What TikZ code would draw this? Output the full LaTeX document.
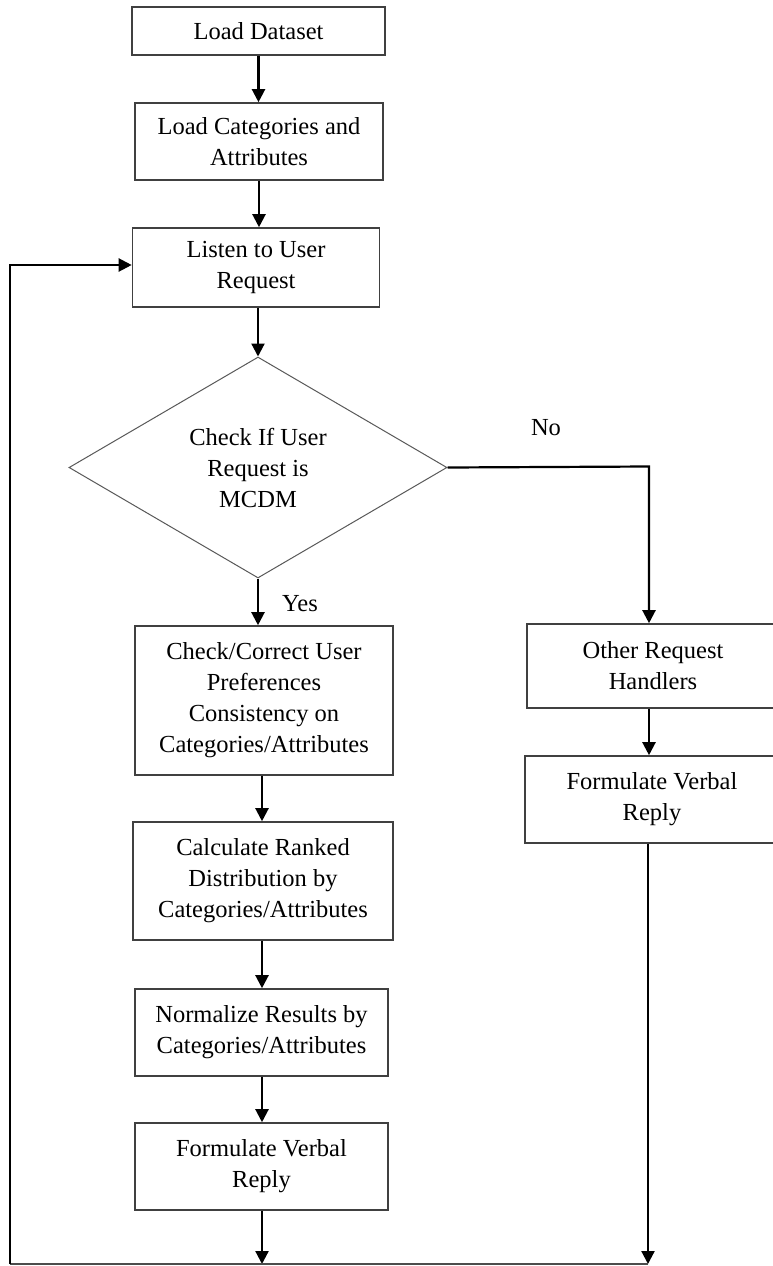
\documentclass[tikz,border=0pt]{standalone}
\usepackage{fontspec}
\setmainfont{Liberation Serif}
\usetikzlibrary{arrows.meta,shapes.geometric}
\begin{document}
\begin{tikzpicture}[x=1pt,y=-1pt,
  box/.style={draw=black!75,line width=1.6pt,fill=white,inner sep=0pt,align=center,
    font=\fontsize{24.5}{31}\selectfont},
  dec/.style={draw=black!65,line width=1pt,diamond,aspect=1.71,minimum width=378pt,minimum height=221pt,
    inner sep=0pt,align=center,font=\fontsize{24.5}{31}\selectfont},
  arr/.style={draw=black,line width=2.2pt,-{Triangle[length=13pt,width=13pt]}},
  lbl/.style={font=\fontsize{24.5}{31}\selectfont,inner sep=0pt}]
\useasboundingbox (0,0) rectangle (772,1266);
\fill[white] (0,0) rectangle (772,1266);
% left column
\node[box,minimum width=253pt,minimum height=48pt] (ld) at (258.5,31) {Load Dataset};
\node[box,minimum width=248pt,minimum height=77pt] (lc) at (259,141.5) {Load Categories and\\Attributes};
\node[box,minimum width=247pt,minimum height=79pt] (lu) at (256,267.5) {Listen to User\\Request};
\node[dec] (ck) at (258,467.5) {Check If User\\Request is\\MCDM};
\node[box,minimum width=258pt,minimum height=149pt] (cc) at (264,700.5) {Check/Correct User\\Preferences\\Consistency on\\Categories/Attributes};
\node[box,minimum width=260pt,minimum height=118pt] (cr) at (263,881) {Calculate Ranked\\Distribution by\\Categories/Attributes};
\node[box,minimum width=253pt,minimum height=87pt] (nr) at (261.5,1032.5) {Normalize Results by\\Categories/Attributes};
\node[box,minimum width=253pt,minimum height=87pt] (fl) at (261.5,1166.5) {Formulate Verbal\\Reply};
% right column
\node[box,minimum width=252pt,minimum height=84pt] (oh) at (653,666) {Other Request\\Handlers};
\node[box,minimum width=254pt,minimum height=87pt] (fr) at (652,799.5) {Formulate Verbal\\Reply};
% labels
\node[lbl] (no) at (546,428) {No};
\node[lbl] (yes) at (300,604) {Yes};
% helper coordinates
\coordinate (bl) at (10,1264);
\coordinate (bm) at (262,1264);
\coordinate (br) at (648,1264);
\coordinate (turn) at (649,466.5);
% arrows
\draw[arr] (ld.south) -- (ld.south |- lc.north);
\draw[arr] (lc.south) -- (lc.south |- lu.north);
\draw[arr] (lu.south -| ck.north) -- (ck.north);
\draw[arr] (ck.south) -- (ck.south |- cc.north);
\draw[arr] (cc.south -| bm) -- (bm |- cr.north);
\draw[arr] (cr.south -| bm) -- (bm |- nr.north);
\draw[arr] (nr.south -| bm) -- (bm |- fl.north);
\draw[arr] (fl.south -| bm) -- (bm);
\draw[arr] (ck.east) -- (turn) -- (turn |- oh.north);
\draw[arr] (oh.south -| turn) -- (turn |- fr.north);
\draw[arr] (fr.south -| br) -- (br);
\draw[draw=black!70,line width=1.5pt] (br) -- (bl);
\draw[arr] (bl) -- (bl |- 0,265) -- (lu.west |- 0,265);
\end{tikzpicture}
\end{document}
